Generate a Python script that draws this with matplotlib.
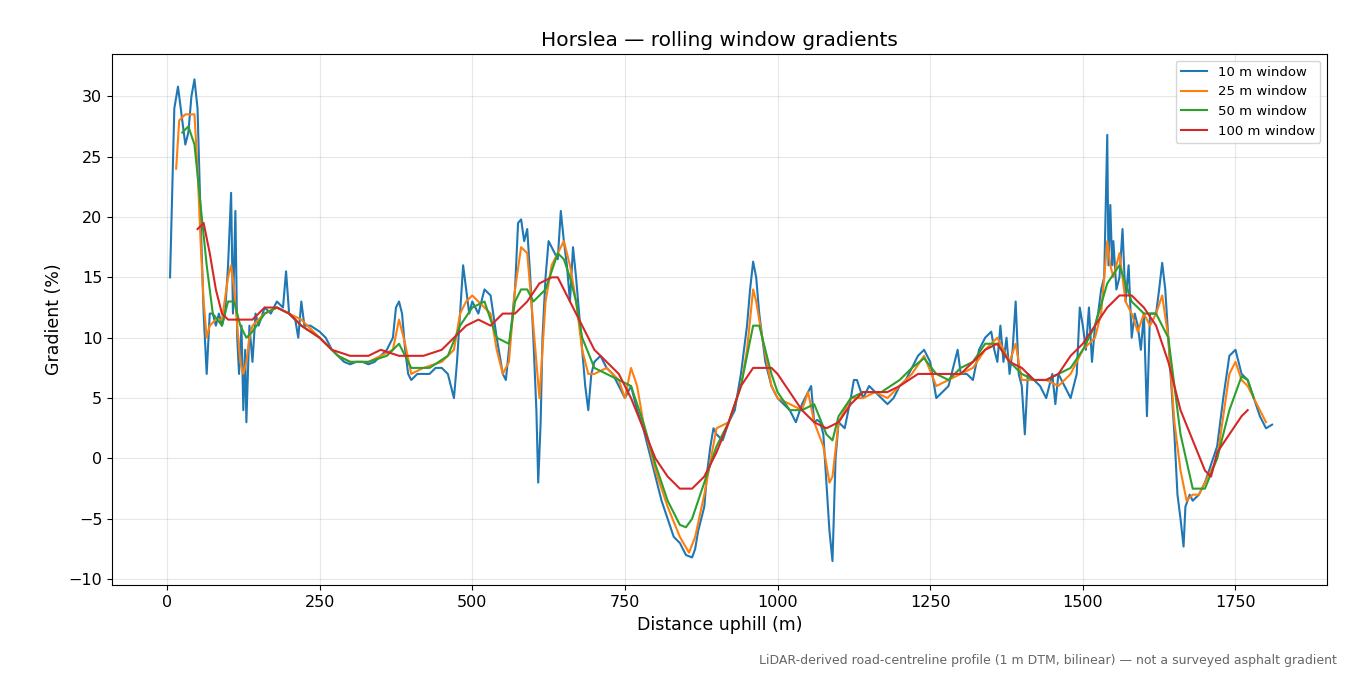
import matplotlib
matplotlib.use("Agg")
import matplotlib.pyplot as plt

w10 = [(5,15),(12,29),(18,30.8),(25,28),(30,26),(35,27),(40,30),(45,31.4),(50,29),(55,20),(60,12),(65,7),(70,12),(75,12),(80,11),(85,12),(90,11),(95,12),(100,16),(105,22),(108,12),(112,20.5),(115,10),(118,7),(122,11),(125,4),(128,9),(130,3),(135,11),(140,8),(145,12),(150,11),(160,12.5),(170,12),(180,13),(190,12.5),(195,15.5),(200,12),(210,11.5),(215,10),(220,13),(225,11),(235,11),(250,10.5),(260,10),(270,9),(280,8.5),(290,8),(300,7.8),(310,8),(320,8),(330,7.8),(340,8),(350,8.5),(360,9),(370,10),(375,12.5),(380,13),(385,12),(390,9),(395,7),(400,6.5),(410,7),(420,7),(430,7),(440,7.5),(450,7.5),(460,7),(470,5),(475,8),(480,12),(485,16),(490,14),(495,12),(500,13),(510,12),(520,14),(530,13.5),(540,10),(550,7),(555,6.5),(560,9),(570,14),(575,19.5),(580,19.8),(585,18),(590,19),(595,15),(600,10),(605,4),(608,-2),(612,3),(615,10),(620,15),(625,18),(630,17.5),(640,16.5),(645,20.5),(650,18),(655,16),(660,13),(665,17.5),(670,15),(675,12),(680,9),(685,6),(690,4),(695,7),(700,8),(710,8.5),(720,7.5),(730,7),(740,6),(750,5),(760,6),(770,4),(780,2.5),(790,0.5),(800,-1.5),(810,-3.5),(820,-5),(830,-6.5),(840,-7),(850,-8),(860,-8.2),(865,-7.5),(870,-6),(880,-4),(885,-1),(890,1),(895,2.5),(900,2),(910,1.5),(920,3),(930,4),(940,7),(950,11),(955,14),(960,16.3),(965,15),(970,12),(975,10),(980,8),(990,6),(1000,5),(1010,4.5),(1020,4),(1030,3),(1040,4.5),(1050,5.5),(1055,6),(1060,3),(1065,3.2),(1070,3),(1075,2),(1080,-2),(1085,-6),(1090,-8.5),(1095,0),(1100,3),(1110,2.5),(1120,5),(1125,6.5),(1130,6.5),(1140,5),(1150,6),(1160,5.5),(1170,5),(1180,4.5),(1190,5),(1200,6),(1210,6.5),(1220,7.5),(1230,8.5),(1240,9),(1250,8),(1260,5),(1270,5.5),(1280,6),(1290,8),(1295,9),(1300,7),(1310,7),(1320,6.5),(1330,9),(1340,10),(1350,10.5),(1355,9),(1360,8),(1365,11),(1370,8),(1375,10),(1380,7),(1385,9),(1390,13),(1395,7),(1400,6),(1405,2),(1410,7),(1420,6.5),(1430,6),(1440,5),(1450,7),(1455,4.5),(1460,7),(1470,6),(1480,5),(1490,7),(1495,12.5),(1500,11),(1505,9),(1510,12.5),(1515,8),(1520,11),(1525,12),(1530,14),(1535,15),(1540,26.8),(1542,16),(1545,21),(1548,16),(1550,18),(1555,14),(1560,15),(1565,19),(1570,13),(1575,16),(1580,10),(1585,12),(1590,11),(1595,9),(1600,12),(1605,3.5),(1610,12),(1620,12),(1625,14),(1630,16.2),(1635,14),(1640,10),(1645,6),(1650,2),(1655,-3),(1660,-5),(1665,-7.3),(1668,-4),(1675,-3),(1680,-3.5),(1690,-3),(1700,-2),(1710,-0.5),(1720,1),(1730,5),(1740,8.5),(1750,9),(1760,7),(1770,6.5),(1780,5),(1790,3.5),(1800,2.5),(1810,2.8)]
w25 = [(15,24),(20,28),(30,28.5),(40,28.5),(45,28.5),(50,24),(55,18),(60,13),(65,10),(70,11),(80,11.5),(90,11.5),(100,15),(105,16),(110,14),(115,11),(120,8),(125,7),(130,8),(135,10),(140,11),(150,11.5),(160,12),(180,12.5),(200,12),(220,11.5),(250,10),(280,8.5),(300,8),(330,8),(350,8.5),(370,9),(380,11.5),(390,9.5),(400,7),(420,7.5),(450,8),(470,9),(480,12),(490,13),(500,13.5),(510,13),(520,12.5),(530,12),(540,9),(550,7),(560,8),(570,14),(580,17.5),(590,17),(600,11),(605,8),(610,5),(615,9),(620,13),(630,16),(640,17),(650,18),(660,16),(670,13),(680,9),(690,7),(700,7),(720,7.5),(740,6.5),(750,5),(760,7.5),(770,6),(780,3),(800,-1),(820,-4),(840,-6.5),(855,-7.8),(865,-6.5),(880,-3),(900,2.5),(920,3),(940,6),(950,9),(960,14),(965,13),(975,10),(990,6),(1000,5),(1020,4.5),(1040,4),(1050,5.5),(1060,3),(1075,1),(1085,-2),(1090,-1.5),(1100,3),(1120,5),(1140,5),(1160,5.5),(1180,5),(1200,6),(1220,7),(1240,8.5),(1260,6),(1280,6.5),(1300,7),(1320,7.5),(1340,9),(1360,10),(1380,8),(1390,9.5),(1400,6.5),(1420,6.5),(1440,6.5),(1460,6),(1480,7),(1500,9),(1520,10),(1530,12),(1540,18),(1545,16),(1550,15),(1560,17),(1570,13),(1580,12),(1590,10.5),(1600,12),(1610,11),(1620,12),(1630,13.5),(1640,10),(1650,3),(1660,-1),(1670,-3.5),(1680,-3),(1690,-3),(1700,-2),(1720,0),(1740,7),(1750,8),(1760,6.5),(1770,6),(1790,4),(1800,3)]
w50 = [(25,27),(35,27.5),(45,26),(55,21),(65,16),(75,12),(90,11),(100,13),(110,13),(120,11),(130,10),(140,10.5),(160,12),(180,12.5),(200,12),(220,11),(250,10),(280,8.5),(300,8),(330,8),(360,8.5),(380,9.5),(400,7.5),(430,7.5),(460,8.5),(480,11),(500,12.5),(520,13),(540,10),(560,9.5),(570,13),(580,14),(590,14),(600,13),(610,13.5),(620,14),(630,15.5),(640,17),(650,16.5),(660,15),(670,13),(680,10),(700,7.5),(720,7),(740,6.5),(760,6),(780,3),(800,-0.5),(820,-3.5),(840,-5.5),(850,-5.7),(860,-5),(880,-2),(900,1),(920,3),(940,6),(960,11),(970,11),(990,7),(1000,5.5),(1020,4),(1040,4),(1060,4.5),(1080,2),(1090,1.5),(1100,3.5),(1120,5),(1140,5.5),(1170,5.5),(1200,6.5),(1220,7.5),(1240,8.3),(1260,7),(1280,6.5),(1300,7.5),(1320,8),(1340,9.5),(1360,9.5),(1380,8),(1400,7),(1420,6.5),(1440,6.5),(1460,7),(1480,7.5),(1500,9),(1520,11),(1540,14.5),(1560,16),(1580,13),(1600,12),(1620,12),(1640,10),(1660,2),(1680,-2.5),(1700,-2.5),(1720,0),(1740,4),(1760,6.8),(1770,6.5),(1780,5)]
w100 = [(50,19),(60,19.5),(70,17),(80,14),(90,12),(100,11.5),(120,11.5),(140,11.5),(160,12.5),(180,12.5),(200,12),(220,11),(250,10),(270,9),(300,8.5),(330,8.5),(350,9),(380,8.5),(420,8.5),(450,9),(470,10),(490,11),(510,11.5),(530,11),(550,12),(570,12),(590,13),(610,14.5),(630,15),(640,15),(660,13),(680,11),(700,9),(720,8),(740,7),(760,5),(780,2.5),(800,0),(820,-1.5),(840,-2.5),(860,-2.5),(880,-1.5),(900,0.5),(920,3),(940,6),(960,7.5),(980,7.5),(990,7.5),(1000,7),(1020,5.5),(1040,4),(1060,3),(1080,2.5),(1100,3),(1120,4.5),(1140,5.5),(1180,5.5),(1200,6),(1230,7),(1260,7),(1280,7),(1300,7),(1320,8),(1340,9),(1360,9.5),(1380,8),(1400,7.5),(1420,6.5),(1440,6.5),(1460,7),(1480,8.5),(1500,9.5),(1520,11),(1540,12.5),(1560,13.5),(1580,13.5),(1600,12.5),(1620,11),(1640,8),(1660,4),(1680,1.5),(1700,-1),(1710,-1.5),(1720,0.5),(1740,2),(1760,3.5),(1770,4)]

series = [(w10, "10 m window", "#1f77b4"), (w25, "25 m window", "#ff7f0e"),
          (w50, "50 m window", "#2ca02c"), (w100, "100 m window", "#d62728")]

fig, ax = plt.subplots(figsize=(13.5, 6.75), dpi=100)
for data, lab, col in series:
    xs = [p[0] for p in data]; ys = [p[1] for p in data]
    ax.plot(xs, ys, color=col, lw=1.5, label=lab)
ax.set_xlim(-90, 1900)
ax.set_ylim(-10.5, 33.5)
ax.grid(True, alpha=0.3)
ax.set_title("Horslea — rolling window gradients", fontsize=14.5)
ax.set_xlabel("Distance uphill (m)", fontsize=12.5)
ax.set_ylabel("Gradient (%)", fontsize=12.5)
ax.tick_params(labelsize=11.5)
ax.legend(loc="upper right", fontsize=9.5)
fig.subplots_adjust(left=0.083, right=0.983, top=0.92, bottom=0.133)
fig.text(0.99, 0.012, "LiDAR-derived road-centreline profile (1 m DTM, bilinear) — not a surveyed asphalt gradient",
         ha="right", va="bottom", fontsize=9, color="#666666")
fig.savefig("out.png", dpi=100)
